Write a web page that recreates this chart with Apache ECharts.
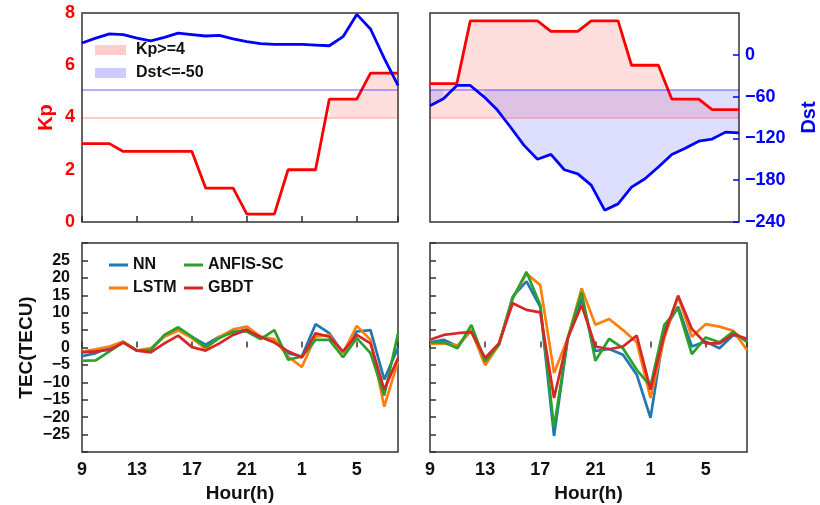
<!DOCTYPE html>
<html><head><meta charset="utf-8">
<script src="https://cdn.jsdelivr.net/npm/echarts@6.0.0/dist/echarts.min.js"></script>
<style>html,body{margin:0;padding:0;background:#fff}#c{width:820px;height:505px}</style>
</head><body><div id="c"></div>
<script>
// hour of day for each hourly sample (x index 0..23)
const hourOfDay = [9,10,11,12,13,14,15,16,17,18,19,20,21,22,23,0,1,2,3,4,5,6,7,8];
const kpTicks = [0,2,4,6,8];
const dstTicks = [-240,-180,-120,-60,0];

// Panel A (left) geomagnetic indices
const kpA  = [3.0,3.0,3.0,2.7,2.7,2.7,2.7,2.7,2.7,1.3,1.3,1.3,0.3,0.3,0.3,2.0,2.0,2.0,4.7,4.7,4.7,5.7,5.7,5.7];
const dstA = [17,24,30,29,24,20,25,31,29,27,28,23,19,16,15,15,15,14,13,26,58,37,-5,-44];
// Panel B (right) geomagnetic indices
const kpB  = [5.3,5.3,5.3,7.7,7.7,7.7,7.7,7.7,7.7,7.3,7.3,7.3,7.7,7.7,7.7,6.0,6.0,6.0,4.7,4.7,4.7,4.3,4.3,4.3];
const dstB = [-73,-63,-44,-44,-60,-79,-104,-130,-150,-143,-165,-171,-187,-223,-214,-190,-178,-161,-143,-134,-124,-121,-111,-112];

// TEC errors, panel A
const nnA    = [-2.5,-1.6,0.1,1.6,-0.9,-0.5,3.3,5.2,3.0,0.8,3.1,4.3,5.2,3.1,2.2,-1.6,-2.6,6.7,4.1,-1.6,4.6,5.0,-9.2,0.0];
const lstmA  = [-1.2,-0.5,0.3,1.7,-0.9,-0.2,3.1,4.9,2.7,-0.4,3.0,5.2,6.0,3.1,2.4,-2.6,-5.6,3.1,3.6,-1.6,6.2,2.2,-17.0,-4.0];
const anfisA = [-3.8,-3.7,-1.1,1.5,-0.9,-0.7,3.6,5.8,3.1,0.1,2.7,4.6,4.6,2.4,5.0,-3.5,-2.6,2.2,2.2,-2.8,2.7,-1.6,-13.8,4.0];
const gbdtA  = [-1.4,-1.1,-0.7,1.4,-0.9,-1.4,1.2,3.4,0.1,-0.9,1.2,3.6,5.0,3.0,1.4,-1.1,-2.9,4.1,3.1,-1.1,3.6,1.2,-12.1,-3.0];
// TEC errors, panel B
const nnB    = [1.5,2.2,0.3,5.0,-3.8,0.8,14.6,19.0,11.7,-25.4,2.7,14.0,-1.0,-0.4,-2.1,-7.8,-20.2,5.0,11.7,0.3,1.7,-0.2,3.6,2.2];
const lstmB  = [1.0,1.2,0.6,4.8,-5.1,0.8,14.1,21.2,17.9,-7.3,2.7,17.0,6.5,8.2,5.0,1.5,-14.5,2.7,14.6,3.1,6.7,6.0,4.8,-0.7];
const anfisB = [1.5,1.5,-0.2,6.5,-4.0,0.8,14.1,21.7,12.2,-23.0,2.7,15.8,-3.8,2.5,-0.2,-6.4,-11.1,6.5,11.2,-1.9,2.9,1.5,4.6,1.5];
const gbdtB  = [2.2,3.6,4.1,4.4,-3.0,1.2,12.7,10.8,10.1,-14.5,2.7,12.2,0.3,-0.5,0.3,3.4,-12.1,3.6,14.9,5.3,1.2,1.2,3.8,2.5];

const KP_T = 4, DST_T = -50;
const FONT = 'Liberation Sans, Arial, sans-serif';
const C = {nn:'#1f77b4', lstm:'#ff7f0e', anfis:'#2ca02c', gbdt:'#d62728', kp:'#ff0000', dst:'#0000ff'};
const pinkFill = 'rgba(255,0,0,0.13)', blueFill = 'rgba(0,0,255,0.13)';

const pts = arr => arr.map((v,i)=>[i,v]);
const minus = v => v < 0 ? '\u2212' + Math.abs(v) : String(v);

const grids = [
  {left:82, top:13, width:316, height:209},
  {left:430, top:13, width:317, height:209},
  {left:82, top:243, width:316, height:209},
  {left:430, top:243, width:317, height:209}
].map(g => Object.assign({show:true, borderColor:'#333', borderWidth:1.5, backgroundColor:'transparent'}, g));

const xAxes = [0,1,2,3].map(i => ({
  type:'value', gridIndex:i, min:0, max:hourOfDay.length-1, interval:4,
  axisLine:{show:false}, splitLine:{show:false},
  axisTick:{show:i!==1, inside:true, length:6, lineStyle:{color:'#333', width:1.5}},
  axisLabel:{show:i>=2, fontFamily:FONT, fontWeight:'bold', fontSize:18, color:'#111', margin:9,
    formatter: v => (v === hourOfDay.length-1 ? '' : String(hourOfDay[v]))},
  name: i>=2 ? 'Hour(h)' : '', nameLocation:'middle', nameGap:32,
  nameTextStyle:{fontFamily:FONT, fontWeight:'bold', fontSize:19, color:'#111'}
}));

const noAxis = {axisLine:{show:false}, splitLine:{show:false}};
const yAxes = [
  Object.assign({type:'value', gridIndex:0, position:'left', min:kpTicks[0], max:kpTicks[kpTicks.length-1], interval:2,
    axisTick:{show:false},
    axisLabel:{fontFamily:FONT, fontWeight:'bold', fontSize:18, color:C.kp, margin:7},
    name:'Kp', nameLocation:'middle', nameGap:26,
    nameTextStyle:{fontFamily:FONT, fontWeight:'bold', fontSize:20, color:C.kp}}, noAxis),
  Object.assign({type:'value', gridIndex:0, position:'right', min:-240, max:60, interval:60,
    axisTick:{show:false}, axisLabel:{show:false}}, noAxis),
  Object.assign({type:'value', gridIndex:1, position:'left', min:0, max:8, interval:2,
    axisTick:{show:false}, axisLabel:{show:false}}, noAxis),
  Object.assign({type:'value', gridIndex:1, position:'right', min:-240, max:60, interval:60,
    axisTick:{show:true, inside:true, length:6, customValues:dstTicks, lineStyle:{color:C.dst, width:1.5}},
    axisLabel:{fontFamily:FONT, fontWeight:'bold', fontSize:18, color:C.dst, margin:6,
      formatter: v => (dstTicks.indexOf(v) < 0 ? '' : minus(v))},
    name:'Dst', nameLocation:'middle', nameGap:60,
    nameTextStyle:{fontFamily:FONT, fontWeight:'bold', fontSize:20, color:C.dst}}, noAxis),
  Object.assign({type:'value', gridIndex:2, min:-30, max:30, interval:5,
    axisTick:{show:true, inside:true, length:6, lineStyle:{color:'#333', width:1.5}},
    axisLabel:{fontFamily:FONT, fontWeight:'bold', fontSize:16, color:'#111', margin:12,
      formatter: v => (Math.abs(v) >= 30 ? '' : minus(v))},
    name:'TEC(TECU)', nameLocation:'middle', nameGap:46,
    nameTextStyle:{fontFamily:FONT, fontWeight:'bold', fontSize:19, color:'#111'}}, noAxis),
  Object.assign({type:'value', gridIndex:3, min:-30, max:30, interval:5,
    axisTick:{show:true, inside:true, length:6, lineStyle:{color:'#333', width:1.5}},
    axisLabel:{show:false}}, noAxis)
];

// Filled region between a series and a threshold, where cond holds (one polygon per contiguous run)
function fillSeries(name, data, thr, cond, xi, yi, color) {
  return {
    type:'custom', name:name, xAxisIndex:xi, yAxisIndex:yi, silent:true, z:1, color:color,
    itemStyle:{color:color},
    data: pts(data),
    renderItem: function(params, api) {
      const i = params.dataIndex;
      if (!cond(data[i]) || (i > 0 && cond(data[i-1]))) return null;
      let j = i;
      while (j + 1 < data.length && cond(data[j+1])) j++;
      if (j === i) return null;
      const top = [], bot = [];
      for (let k = i; k <= j; k++) { top.push(api.coord([k, data[k]])); bot.push(api.coord([k, thr])); }
      return {type:'polygon', shape:{points: top.concat(bot.reverse())}, style:{fill:color}};
    }
  };
}
const refLine = (val, color) => ({silent:true, symbol:'none', animation:false, label:{show:false},
  lineStyle:{color:color, width:2, type:'solid'}, data:[{yAxis:val}]});

function idxLines(kp, dst, xi, yk, yd) {
  return [
    fillSeries('Kp>=4', kp, KP_T, v => v >= KP_T, xi, yk, pinkFill),
    fillSeries('Dst<=-50', dst, DST_T, v => v <= DST_T, xi, yd, blueFill),
    {type:'line', name:'Kp'+xi, xAxisIndex:xi, yAxisIndex:yk, symbol:'none', data:pts(kp),
     lineStyle:{color:C.kp, width:2.8}, itemStyle:{color:C.kp}, z:4,
     markLine: refLine(KP_T, 'rgba(255,0,0,0.2)')},
    {type:'line', name:'Dst'+xi, xAxisIndex:xi, yAxisIndex:yd, symbol:'none', data:pts(dst),
     lineStyle:{color:C.dst, width:2.8}, itemStyle:{color:C.dst}, z:4,
     markLine: refLine(DST_T, 'rgba(0,0,255,0.3)')}
  ];
}
function tecLines(set, xi, yi) {
  const names = ['NN','LSTM','ANFIS-SC','GBDT'];
  const cols = [C.nn, C.lstm, C.anfis, C.gbdt];
  return set.map((d,k)=>({type:'line', name:names[k], xAxisIndex:xi, yAxisIndex:yi, symbol:'none',
    data:pts(d), color:cols[k], itemStyle:{color:cols[k]}, lineStyle:{color:cols[k], width:2.7}, z:3+k}));
}

const series = [
  ...idxLines(kpA, dstA, 0, 0, 1),
  ...idxLines(kpB, dstB, 1, 2, 3),
  ...tecLines([nnA, lstmA, anfisA, gbdtA], 2, 4),
  ...tecLines([nnB, lstmB, anfisB, gbdtB], 3, 5)
];

const legendText = {fontFamily:FONT, fontWeight:'bold', fontSize:16, color:'#111'};
const option = {
  animation:false,
  grid: grids, xAxis: xAxes, yAxis: yAxes, series: series,
  legend: [
    {orient:'vertical', left:90, top:37, itemGap:7, itemWidth:31, itemHeight:10, icon:'rect',
     selectedMode:false, itemStyle:{borderWidth:0},
     textStyle:Object.assign({padding:[0,0,0,5]}, legendText),
     data:[{name:'Kp>=4', itemStyle:{color:'rgba(255,0,0,0.2)'}}, {name:'Dst<=-50', itemStyle:{color:'rgba(0,0,255,0.2)'}}]},
    {orient:'vertical', left:104, top:252, itemGap:7, itemWidth:19, itemHeight:3, icon:'rect', selectedMode:false,
     itemStyle:{borderWidth:0}, textStyle:legendText, data:['NN','LSTM']},
    {orient:'vertical', left:179, top:252, itemGap:7, itemWidth:19, itemHeight:3, icon:'rect', selectedMode:false,
     itemStyle:{borderWidth:0}, textStyle:legendText, data:['ANFIS-SC','GBDT']}
  ]
};
const chart = echarts.init(document.getElementById('c'), null, {renderer:'canvas'});
chart.setOption(option);
</script>
</body></html>
